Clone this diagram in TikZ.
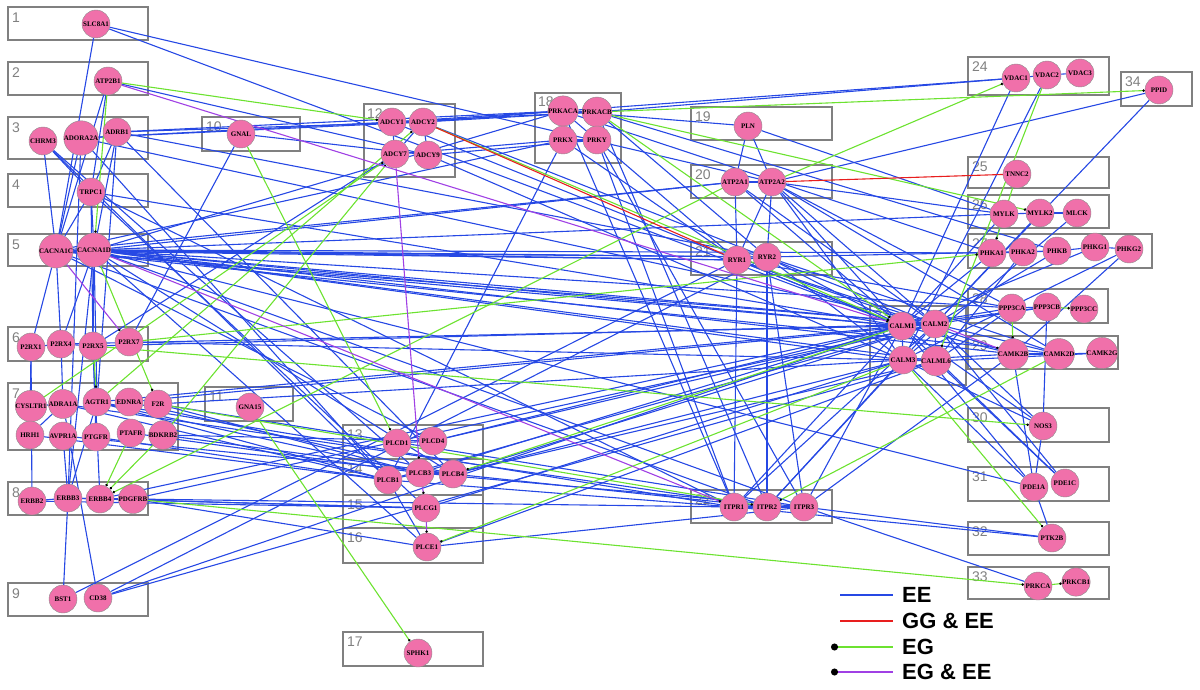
\documentclass[tikz,border=0pt]{standalone}
\usepackage{fontspec}
\setmainfont{Liberation Serif}
\setsansfont{Liberation Sans}
\usetikzlibrary{arrows.meta}
\definecolor{genepink}{RGB}{240,112,170}
\definecolor{grpgray}{RGB}{128,128,128}
\definecolor{eeblue}{RGB}{38,72,228}
\definecolor{ggred}{RGB}{232,30,30}
\definecolor{eggreen}{RGB}{108,226,48}
\definecolor{egpurple}{RGB}{160,64,228}
\pgfdeclarelayer{boxlayer}
\pgfdeclarelayer{edgelayer}
\pgfsetlayers{boxlayer,edgelayer,main}

\begin{document}
\begin{tikzpicture}[x=1pt, y=-1pt,
  gene/.style={circle, draw=black!45, line width=0.4pt, fill=genepink, minimum size=28pt, inner sep=0pt, font=\fontsize{7}{8}\selectfont\bfseries},
  grp/.style={draw=grpgray, line width=2.4pt},
  grpnum/.style={anchor=north west, inner sep=0pt, text=grpgray, font=\sffamily\fontsize{14}{15}\selectfont},
  ee/.style={draw=eeblue, line width=1.1pt},
  ggee/.style={draw=ggred, line width=1.1pt},
  eg/.style={draw=eggreen, line width=1.1pt, -{Circle[length=2.4pt, color=black]}},
  egee/.style={draw=egpurple, line width=1.1pt, -{Circle[length=2.4pt, color=black]}},
  legtext/.style={anchor=west, inner sep=0pt, font=\sffamily\bfseries\fontsize{22}{24}\selectfont}
]
\useasboundingbox (0,0) rectangle (1200,690);

% group boxes
\begin{pgfonlayer}{boxlayer}
  \draw[grp] (8,7) rectangle (148,40);        \node[grpnum] (g1) at (12,13) {1};
  \draw[grp] (8,62) rectangle (148,95);       \node[grpnum] (g2) at (12,68) {2};
  \draw[grp] (8,117) rectangle (148,159);     \node[grpnum] (g3) at (12,123) {3};
  \draw[grp] (8,174) rectangle (148,207);     \node[grpnum] (g4) at (12,180) {4};
  \draw[grp] (8,234) rectangle (148,266);     \node[grpnum] (g5) at (12,240) {5};
  \draw[grp] (8,327) rectangle (148,361);     \node[grpnum] (g6) at (12,333) {6};
  \draw[grp] (8,383) rectangle (178,450);     \node[grpnum] (g7) at (12,389) {7};
  \draw[grp] (8,482) rectangle (148,515);     \node[grpnum] (g8) at (12,488) {8};
  \draw[grp] (8,583) rectangle (148,616);     \node[grpnum] (g9) at (12,589) {9};
  \draw[grp] (202,117) rectangle (300,151);   \node[grpnum] (g10) at (206,122) {10};
  \draw[grp] (205,387) rectangle (293,421);   \node[grpnum] (g11) at (209,392) {11};
  \draw[grp] (364,104) rectangle (455,177);   \node[grpnum] (g12) at (367,109) {12};
  \draw[grp] (343,425) rectangle (483,459);   \node[grpnum] (g13) at (347,430) {13};
  \draw[grp] (343,459) rectangle (483,495);   \node[grpnum] (g14) at (347,464) {14};
  \draw[grp] (343,495) rectangle (483,528);   \node[grpnum] (g15) at (347,500) {15};
  \draw[grp] (343,528) rectangle (483,563);   \node[grpnum] (g16) at (347,533) {16};
  \draw[grp] (343,632) rectangle (483,666);   \node[grpnum] (g17) at (347,637) {17};
  \draw[grp] (535,93) rectangle (621,163);    \node[grpnum] (g18) at (538,97) {18};
  \draw[grp] (691,107) rectangle (832,140);   \node[grpnum] (g19) at (695,112) {19};
  \draw[grp] (691,165) rectangle (832,198);   \node[grpnum] (g20) at (695,170) {20};
  \draw[grp] (691,242) rectangle (832,275);   \node[grpnum] (g21) at (695,247) {21};
  \draw[grp] (691,490) rectangle (832,523);   \node[grpnum] (g22) at (695,495) {22};
  \draw[grp] (870,306) rectangle (966,385);   \node[grpnum] (g23) at (874,311) {23};
  \draw[grp] (968,57) rectangle (1109,95);    \node[grpnum] (g24) at (972,62) {24};
  \draw[grp] (968,157) rectangle (1109,188);  \node[grpnum] (g25) at (972,162) {25};
  \draw[grp] (968,195) rectangle (1109,228);  \node[grpnum] (g26) at (972,200) {26};
  \draw[grp] (968,234) rectangle (1152,268);  \node[grpnum] (g27) at (972,239) {27};
  \draw[grp] (968,289) rectangle (1108,323);  \node[grpnum] (g28) at (972,294) {28};
  \draw[grp] (968,336) rectangle (1118,369);  \node[grpnum] (g29) at (972,341) {29};
  \draw[grp] (968,408) rectangle (1109,442);  \node[grpnum] (g30) at (972,413) {30};
  \draw[grp] (968,467) rectangle (1109,501);  \node[grpnum] (g31) at (972,472) {31};
  \draw[grp] (968,522) rectangle (1109,555);  \node[grpnum] (g32) at (972,527) {32};
  \draw[grp] (968,567) rectangle (1109,599);  \node[grpnum] (g33) at (972,572) {33};
  \draw[grp] (1121,72) rectangle (1192,106);  \node[grpnum] (g34) at (1125,77) {34};
\end{pgfonlayer}

% genes
\node[gene] (SLC8A1) at (96,24) {SLC8A1};
\node[gene] (ATP2B1) at (108,81) {ATP2B1};
\node[gene] (CHRM3) at (43,141) {CHRM3};
\node[gene] (ADORA2A) at (81,138) {ADORA2A};
\node[gene] (ADRB1) at (117,132) {ADRB1};
\node[gene] (TRPC1) at (91,192) {TRPC1};
\node[gene] (CACNA1C) at (56,251) {CACNA1C};
\node[gene] (CACNA1D) at (94,250) {CACNA1D};
\node[gene] (P2RX1) at (31,347) {P2RX1};
\node[gene] (P2RX4) at (61,344) {P2RX4};
\node[gene] (P2RX5) at (93,346) {P2RX5};
\node[gene] (P2RX7) at (129,342) {P2RX7};
\node[gene] (CYSLTR1) at (31,406) {CYSLTR1};
\node[gene] (ADRA1A) at (63,404) {ADRA1A};
\node[gene] (AGTR1) at (97,402) {AGTR1};
\node[gene] (EDNRA) at (129,402) {EDNRA};
\node[gene] (F2R) at (158,404) {F2R};
\node[gene] (HRH1) at (30,435) {HRH1};
\node[gene] (AVPR1A) at (63,436) {AVPR1A};
\node[gene] (PTGFR) at (96,437) {PTGFR};
\node[gene] (PTAFR) at (131,433) {PTAFR};
\node[gene] (BDKRB2) at (163,435) {BDKRB2};
\node[gene] (ERBB2) at (32,501) {ERBB2};
\node[gene] (ERBB3) at (68,498) {ERBB3};
\node[gene] (ERBB4) at (100,499) {ERBB4};
\node[gene] (PDGFRB) at (133,499) {PDGFRB};
\node[gene] (BST1) at (63,599) {BST1};
\node[gene] (CD38) at (98,598) {CD38};
\node[gene] (GNAL) at (241,134) {GNAL};
\node[gene] (GNA15) at (250,407) {GNA15};
\node[gene] (ADCY1) at (392,122) {ADCY1};
\node[gene] (ADCY2) at (423,122) {ADCY2};
\node[gene] (ADCY7) at (395,154) {ADCY7};
\node[gene] (ADCY9) at (428,155) {ADCY9};
\node[gene] (PLCD1) at (397,443) {PLCD1};
\node[gene] (PLCD4) at (433,441) {PLCD4};
\node[gene] (PLCB1) at (388,480) {PLCB1};
\node[gene] (PLCB3) at (420,473) {PLCB3};
\node[gene] (PLCB4) at (453,474) {PLCB4};
\node[gene] (PLCG1) at (426,508) {PLCG1};
\node[gene] (PLCE1) at (427,547) {PLCE1};
\node[gene] (SPHK1) at (418,653) {SPHK1};
\node[gene] (PRKACA) at (563,111) {PRKACA};
\node[gene] (PRKACB) at (597,112) {PRKACB};
\node[gene] (PRKX) at (563,140) {PRKX};
\node[gene] (PRKY) at (597,140) {PRKY};
\node[gene] (PLN) at (748,126) {PLN};
\node[gene] (ATP2A1) at (735,182) {ATP2A1};
\node[gene] (ATP2A2) at (772,182) {ATP2A2};
\node[gene] (RYR1) at (737,260) {RYR1};
\node[gene] (RYR2) at (767,257) {RYR2};
\node[gene] (ITPR1) at (734,507) {ITPR1};
\node[gene] (ITPR2) at (767,507) {ITPR2};
\node[gene] (ITPR3) at (804,507) {ITPR3};
\node[gene] (VDAC1) at (1016,78) {VDAC1};
\node[gene] (VDAC2) at (1047,75) {VDAC2};
\node[gene] (VDAC3) at (1080,73) {VDAC3};
\node[gene] (PPID) at (1159,90) {PPID};
\node[gene] (TNNC2) at (1017,174) {TNNC2};
\node[gene] (MYLK) at (1004,214) {MYLK};
\node[gene] (MYLK2) at (1040,213) {MYLK2};
\node[gene] (MLCK) at (1077,213) {MLCK};
\node[gene] (PHKA1) at (992,253) {PHKA1};
\node[gene] (PHKA2) at (1023,252) {PHKA2};
\node[gene] (PHKB) at (1057,251) {PHKB};
\node[gene] (PHKG1) at (1095,247) {PHKG1};
\node[gene] (PHKG2) at (1129,249) {PHKG2};
\node[gene] (CALM1) at (902,326) {CALM1};
\node[gene] (CALM2) at (935,324) {CALM2};
\node[gene] (CALM3) at (903,360) {CALM3};
\node[gene] (CALML6) at (936,361) {CALML6};
\node[gene] (PPP3CA) at (1012,308) {PPP3CA};
\node[gene] (PPP3CB) at (1047,307) {PPP3CB};
\node[gene] (PPP3CC) at (1084,309) {PPP3CC};
\node[gene] (CAMK2B) at (1013,354) {CAMK2B};
\node[gene] (CAMK2D) at (1059,354) {CAMK2D};
\node[gene] (CAMK2G) at (1102,353) {CAMK2G};
\node[gene] (NOS3) at (1043,426) {NOS3};
\node[gene] (PDE1A) at (1034,487) {PDE1A};
\node[gene] (PDE1C) at (1065,483) {PDE1C};
\node[gene] (PTK2B) at (1052,538) {PTK2B};
\node[gene] (PRKCA) at (1038,586) {PRKCA};
\node[gene] (PRKCB1) at (1076,582) {PRKCB1};

% interactions
\begin{pgfonlayer}{edgelayer}
  % EE
  \foreach \a/\b in {SLC8A1/CACNA1C, SLC8A1/ATP2A2, SLC8A1/CALM1,
    ATP2B1/CACNA1C, ATP2B1/ADCY9, ATP2B1/TRPC1,
    ADORA2A/ADCY1, ADORA2A/ADCY2, ADORA2A/CACNA1C, ADORA2A/PLCB1, ADORA2A/CALM2, ADORA2A/ERBB3,
    ADRB1/ADCY2, ADRB1/PRKACA, ADRB1/CACNA1D, ADRB1/TRPC1, ADRB1/RYR2, ADRB1/PLCB4, ADRB1/AGTR1,
    CHRM3/TRPC1, CHRM3/PLCB3, CHRM3/CACNA1C, CHRM3/PLCB1,
    TRPC1/CALM1, TRPC1/ITPR1, TRPC1/PLCG1, TRPC1/CACNA1D, TRPC1/P2RX5, TRPC1/CACNA1C,
    GNAL/ADCY9, GNAL/P2RX7,
    CACNA1C/CACNA1D, CACNA1C/RYR1, CACNA1C/RYR2, CACNA1C/CALM1, CACNA1C/CALM2, CACNA1C/PLCD4,
    CACNA1C/P2RX1, CACNA1C/P2RX4, CACNA1C/ITPR2, CACNA1C/CAMK2D, CACNA1C/PRKX,
    CACNA1D/RYR1, CACNA1D/RYR2, CACNA1D/CALM1, CACNA1D/CALM2, CACNA1D/CALM3, CACNA1D/CALML6,
    CACNA1D/PHKA1, CACNA1D/PPP3CA, CACNA1D/CAMK2B, CACNA1D/PLCB4, CACNA1D/PLCE1, CACNA1D/ATP2A1,
    CACNA1D/PRKACA, CACNA1D/P2RX4, CACNA1D/ERBB3, CACNA1D/AGTR1, CACNA1D/MYLK, CACNA1D/PDE1A,
    CACNA1D/P2RX5, CACNA1D/ITPR3,
    P2RX1/P2RX4, P2RX1/HRH1, P2RX4/CALM1, P2RX4/ADRA1A, P2RX4/P2RX5,
    P2RX5/CALM2, P2RX5/ERBB4, P2RX5/PTGFR, P2RX7/CALM3,
    ADRA1A/PLCB1, ADRA1A/ITPR2, HRH1/ADRA1A, CYSLTR1/ADRA1A,
    AGTR1/PLCB3, AGTR1/PLCB1, AGTR1/CALM1, AGTR1/ITPR1, AGTR1/ERBB3,
    EDNRA/PLCB4, EDNRA/CALM2, F2R/PLCB3, F2R/ITPR3, F2R/CALM3,
    HRH1/PLCB1, AVPR1A/PLCB4, AVPR1A/ERBB3, PTGFR/PLCB1, PTAFR/PLCB3, BDKRB2/PLCB4, BDKRB2/PLCD4,
    ERBB2/ERBB3, ERBB2/P2RX1, ERBB2/PLCG1, ERBB3/PLCG1, ERBB3/BST1, ERBB3/ERBB4,
    ERBB4/PLCG1, ERBB4/PDGFRB, ERBB4/CALM1,
    PDGFRB/ITPR1, PDGFRB/PLCE1, PDGFRB/CALM2,
    BST1/RYR1, CD38/ADRA1A, CD38/CALM1, CD38/CALML6, CD38/RYR2,
    ADCY1/ADCY2, ADCY1/ADCY7, ADCY1/PRKACA, ADCY1/PRKACB, ADCY1/CALM1,
    ADCY2/PRKACB, ADCY2/CALM2, ADCY2/ADCY7, ADCY2/PRKACA,
    ADCY7/PRKX, ADCY7/P2RX5, ADCY9/PRKY, ADCY9/CALM3, ADCY9/ADCY2,
    PRKACA/PRKACB, PRKACA/PRKX, PRKACB/PRKY, PRKX/PRKY,
    PRKACA/VDAC1, PRKACB/VDAC1, PRKACA/RYR1, PRKACA/PLN, PRKACA/ITPR1, PRKACB/RYR2,
    PRKACB/ITPR2, PRKACB/PHKB, PRKACA/PHKA1,
    PRKX/RYR1, PRKX/PLCB1, PRKY/ITPR1, PRKY/ITPR3,
    PLN/ATP2A2, PLN/ATP2A1, PLN/MYLK,
    ATP2A1/ATP2A2, ATP2A1/RYR1, ATP2A1/CALM1, ATP2A1/CALM2, ATP2A1/CACNA1C,
    ATP2A2/RYR2, ATP2A2/RYR1, ATP2A2/CALM2, ATP2A2/CALM1, ATP2A2/MYLK, ATP2A2/PPP3CA,
    ATP2A2/CAMK2D, ATP2A2/CALM3,
    RYR1/RYR2, RYR1/CALM1, RYR1/CALM2, RYR1/CAMK2B, RYR1/PPP3CA, RYR1/ITPR1,
    RYR2/CALM1, RYR2/CALM3, RYR2/CAMK2D, RYR2/ITPR3, RYR2/PHKB, RYR2/ITPR2,
    ITPR1/CALM1, ITPR1/ITPR2, ITPR1/PLCB1, ITPR1/CALM2, ITPR2/CALM2, ITPR2/ITPR3, ITPR2/PLCB4,
    ITPR2/CALM3, ITPR3/CALM1, ITPR3/PLCB3, ITPR3/PLCE1, ITPR3/CAMK2B,
    PLCB4/CALM2, PLCB4/CALM3, PLCB4/CALML6, PLCD4/CALM1, PLCD4/CALM2, PLCB3/CALM1,
    PLCB1/CALM2, PLCE1/CALML6, PLCG1/CALM3,
    PLCB1/PLCB3, PLCB3/PLCB4, PLCD1/PLCD4, PLCB1/PLCE1,
    CALM1/CALM2, CALM1/CALM3, CALM2/CALML6, CALM3/CALML6,
    CALM1/PPP3CA, CALM1/PPP3CB, CALM1/CAMK2B, CALM1/MYLK, CALM1/PHKA1, CALM1/NOS3, CALM1/PDE1A,
    CALM1/PHKG1, CALM2/PPP3CB, CALM2/CAMK2D, CALM2/MYLK2, CALM2/PHKB, CALM2/PDE1C, CALM2/NOS3,
    CALM3/CAMK2B, CALM3/MLCK, CALM3/PHKG2, CALM3/PDE1A,
    CALML6/PPP3CA, CALML6/CAMK2G, CALML6/PHKA2, CALML6/PDE1C,
    MYLK/MYLK2, MYLK2/MLCK, MYLK/PHKA1,
    VDAC1/VDAC2, VDAC2/VDAC3, VDAC2/CALM3, VDAC1/CALM1,
    PPID/ATP2A2, PPID/CALM2,
    PHKA1/PHKA2, PHKA2/PHKB, PHKB/PHKG1, PHKG1/PHKG2, PHKG2/CAMK2B,
    PPP3CA/PPP3CB, PPP3CB/NOS3,
    CAMK2B/CAMK2D, CAMK2D/CAMK2G, CAMK2B/PDE1A,
    NOS3/PDE1A, NOS3/CALM3, PDE1C/CALM1, PDE1A/PTK2B,
    PTK2B/ITPR3, PTK2B/ITPR1, PRKCA/ITPR3}
    \draw[ee] (\a) -- (\b);
  % EG
  \foreach \a/\b in {ATP2B1/ADCY1, ATP2B1/CACNA1D, CACNA1D/F2R, GNAL/PLCD1, GNA15/SPHK1,
    PDGFRB/PRKCA, PRKCA/PRKCB1, VDAC2/CALML6, TNNC2/PHKA1, PRKACB/PPID, ATP2A2/VDAC1,
    PRKACB/CALM1, ATP2A1/ERBB4, CAMK2D/ITPR2, CALM3/PTK2B, CYSLTR1/ADCY7, BDKRB2/ADCY7,
    CALM3/PLCE1, CALM1/PLCB4, P2RX5/NOS3, F2R/ITPR2, AGTR1/ADCY2, P2RX5/AGTR1,
    PPP3CA/CAMK2B, PPP3CB/PPP3CC, ADCY2/CALM1, PTAFR/ERBB4, BDKRB2/ERBB4, PRKACB/MYLK2,
    P2RX7/PHKA1}
    \draw[eg] (\a) -- (\b);
  % GG & EE
  \draw[ggee] (ADCY2) -- (RYR1);
  \draw[ggee] (ATP2A2) -- (TNNC2);
  % EG & EE
  \foreach \a/\b in {ATP2B1/CALM1, CACNA1C/P2RX7, CACNA1D/ITPR1, ADCY7/PLCB3, PLCB3/PLCG1,
    PLCG1/PLCE1, CALM2/CAMK2B}
    \draw[egee] (\a) -- (\b);
\end{pgfonlayer}

% legend
\coordinate (leg1a) at (840,595); \coordinate (leg1b) at (893,595);
\coordinate (leg2a) at (840,621); \coordinate (leg2b) at (893,621);
\coordinate (leg3a) at (831,647); \coordinate (leg3b) at (893,647);
\coordinate (leg4a) at (831,672); \coordinate (leg4b) at (893,672);
\draw[ee] (leg1a) -- (leg1b);
\draw[ggee] (leg2a) -- (leg2b);
\draw[draw=eggreen, line width=1.4pt, {Circle[length=7pt, color=black]}-] (leg3a) -- (leg3b);
\draw[draw=egpurple, line width=1.4pt, {Circle[length=7pt, color=black]}-] (leg4a) -- (leg4b);
\node[legtext] (leg1) at (902,595) {EE};
\node[legtext] (leg2) at (902,621) {GG \& EE};
\node[legtext] (leg3) at (902,647) {EG};
\node[legtext] (leg4) at (902,672) {EG \& EE};
\end{tikzpicture}
\end{document}
